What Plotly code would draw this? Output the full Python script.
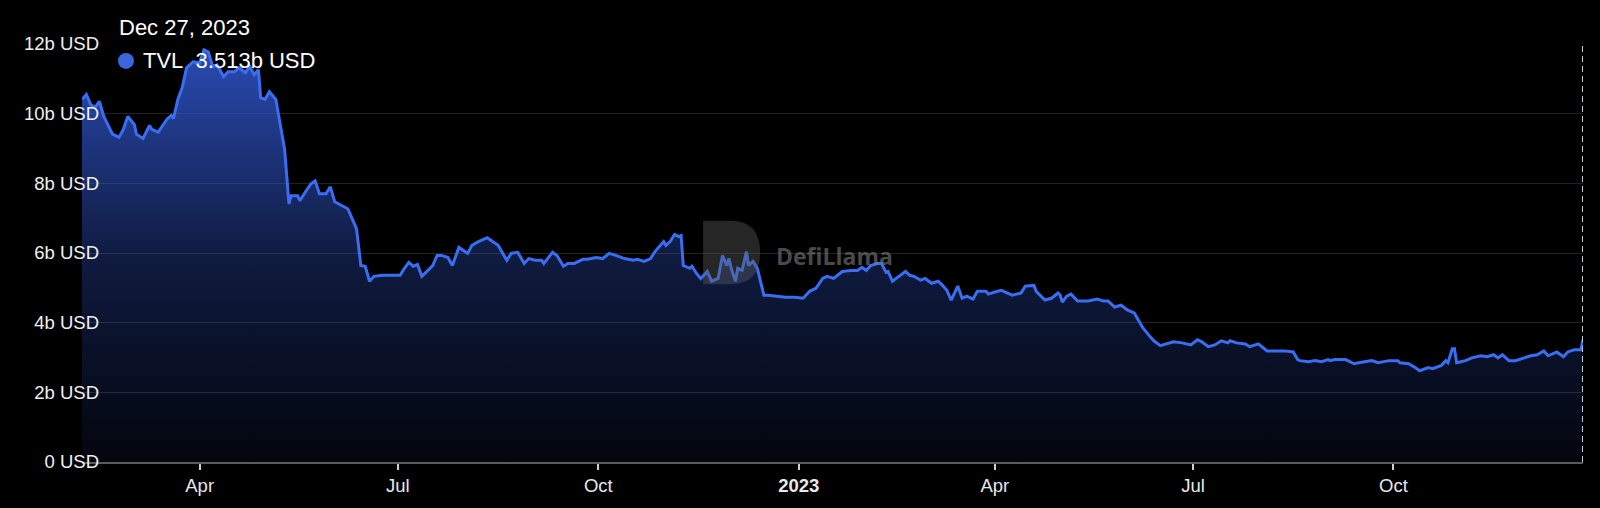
import plotly.graph_objects as go

# ---- data (TVL in billions USD) ----
dates = [
    "2022-02-06","2022-02-08","2022-02-10","2022-02-12","2022-02-14","2022-02-16","2022-02-20","2022-02-23",
    "2022-02-25","2022-02-27","2022-03-02","2022-03-03","2022-03-06","2022-03-09","2022-03-10","2022-03-13",
    "2022-03-17","2022-03-19","2022-03-20","2022-03-22","2022-03-24","2022-03-26","2022-03-29","2022-04-01",
    "2022-04-03","2022-04-05","2022-04-07","2022-04-09","2022-04-12","2022-04-14","2022-04-17","2022-04-19",
    "2022-04-22","2022-04-24","2022-04-26","2022-04-28","2022-04-29","2022-05-01","2022-05-03","2022-05-06",
    "2022-05-07","2022-05-10","2022-05-12","2022-05-13","2022-05-16","2022-05-17","2022-05-19","2022-05-22",
    "2022-05-24","2022-05-26","2022-05-29","2022-05-31","2022-06-02","2022-06-05","2022-06-08","2022-06-10",
    "2022-06-12","2022-06-14","2022-06-16","2022-06-18","2022-06-20","2022-06-24","2022-06-28","2022-07-02",
    "2022-07-04","2022-07-06","2022-07-08","2022-07-10","2022-07-12","2022-07-15","2022-07-17","2022-07-19",
    "2022-07-21","2022-07-24","2022-07-26","2022-07-29","2022-08-02","2022-08-04","2022-08-07","2022-08-11",
    "2022-08-13","2022-08-16","2022-08-20","2022-08-22","2022-08-25","2022-08-28","2022-08-30","2022-09-02",
    "2022-09-05","2022-09-06","2022-09-10","2022-09-12","2022-09-15","2022-09-17","2022-09-20","2022-09-24",
    "2022-09-26","2022-09-30","2022-10-03","2022-10-06","2022-10-09","2022-10-13","2022-10-17","2022-10-19",
    "2022-10-22","2022-10-25","2022-10-27","2022-10-31","2022-11-01","2022-11-03","2022-11-05","2022-11-07",
    "2022-11-08","2022-11-09","2022-11-12","2022-11-13","2022-11-15","2022-11-17","2022-11-18","2022-11-20",
    "2022-11-22","2022-11-25","2022-11-27","2022-11-29","2022-11-30","2022-12-01","2022-12-03","2022-12-04",
    "2022-12-06","2022-12-08","2022-12-09","2022-12-11","2022-12-13","2022-12-16","2022-12-18","2022-12-21",
    "2022-12-26","2022-12-30","2023-01-03","2023-01-06","2023-01-09","2023-01-12","2023-01-14","2023-01-17",
    "2023-01-19","2023-01-21","2023-01-25","2023-01-28","2023-01-30","2023-02-01","2023-02-03","2023-02-06",
    "2023-02-08","2023-02-10","2023-02-11","2023-02-13","2023-02-16","2023-02-19","2023-02-21","2023-02-23",
    "2023-02-26","2023-02-28","2023-03-03","2023-03-06","2023-03-08","2023-03-10","2023-03-12","2023-03-15",
    "2023-03-17","2023-03-19","2023-03-22","2023-03-24","2023-03-28","2023-03-29","2023-04-01","2023-04-04",
    "2023-04-09","2023-04-13","2023-04-15","2023-04-17","2023-04-19","2023-04-20","2023-04-24","2023-04-27",
    "2023-04-30","2023-05-01","2023-05-02","2023-05-04","2023-05-06","2023-05-09","2023-05-12","2023-05-14",
    "2023-05-18","2023-05-21","2023-05-23","2023-05-26","2023-05-29","2023-06-01","2023-06-04","2023-06-06",
    "2023-06-08","2023-06-11","2023-06-13","2023-06-16","2023-06-19","2023-06-22","2023-06-26","2023-06-30",
    "2023-07-03","2023-07-05","2023-07-08","2023-07-11","2023-07-14","2023-07-17","2023-07-18","2023-07-21",
    "2023-07-25","2023-07-27","2023-07-31","2023-08-02","2023-08-04","2023-08-09","2023-08-12","2023-08-16",
    "2023-08-18","2023-08-19","2023-08-23","2023-08-26","2023-08-29","2023-09-01","2023-09-02","2023-09-04",
    "2023-09-09","2023-09-13","2023-09-15","2023-09-21","2023-09-24","2023-09-29","2023-10-03","2023-10-04",
    "2023-10-08","2023-10-11","2023-10-13","2023-10-17","2023-10-19","2023-10-23","2023-10-25","2023-10-26",
    "2023-10-28","2023-10-29","2023-10-30","2023-11-01","2023-11-03","2023-11-06","2023-11-10","2023-11-13",
    "2023-11-16","2023-11-18","2023-11-20","2023-11-23","2023-11-26","2023-11-30","2023-12-03","2023-12-06",
    "2023-12-09","2023-12-11","2023-12-15","2023-12-18","2023-12-20","2023-12-23","2023-12-26","2023-12-27",
]

tvl_b = [
    10.41, 10.55, 10.26, 10.18, 10.35, 9.92, 9.41, 9.32,
    9.55, 9.92, 9.69, 9.41, 9.29, 9.66, 9.55, 9.47,
    9.84, 9.95, 9.86, 10.41, 10.75, 11.32, 11.49, 11.46,
    11.83, 11.77, 11.35, 11.40, 11.06, 11.20, 11.20, 11.32,
    11.18, 11.35, 11.12, 11.26, 10.46, 10.41, 10.63, 10.41,
    10.04, 8.98, 7.41, 7.64, 7.64, 7.50, 7.70, 7.98,
    8.07, 7.70, 7.70, 7.90, 7.47, 7.36, 7.27, 6.99,
    6.70, 5.64, 5.62, 5.19, 5.33, 5.36, 5.36, 5.36,
    5.56, 5.73, 5.62, 5.67, 5.33, 5.50, 5.64, 5.93,
    5.93, 5.87, 5.64, 6.16, 5.99, 6.22, 6.33, 6.44,
    6.36, 6.22, 5.79, 5.99, 6.02, 5.70, 5.84, 5.79,
    5.79, 5.70, 6.02, 5.93, 5.62, 5.70, 5.70, 5.82,
    5.82, 5.87, 5.84, 5.99, 5.93, 5.84, 5.79, 5.82,
    5.76, 5.84, 6.04, 6.33, 6.22, 6.33, 6.53, 6.47,
    6.50, 5.64, 5.56, 5.62, 5.42, 5.27, 5.33, 5.47,
    5.19, 5.27, 5.93, 5.64, 5.84, 5.56, 5.19, 5.56,
    5.50, 6.04, 5.64, 5.76, 5.56, 4.79, 4.79, 4.76,
    4.73, 4.73, 4.70, 4.90, 4.99, 5.27, 5.33, 5.27,
    5.36, 5.47, 5.50, 5.50, 5.59, 5.50, 5.64, 5.70,
    5.70, 5.45, 5.47, 5.19, 5.33, 5.47, 5.36, 5.33,
    5.22, 5.27, 5.13, 5.19, 5.07, 4.93, 4.65, 5.05,
    4.70, 4.76, 4.68, 4.90, 4.90, 4.82, 4.88, 4.93,
    4.79, 4.85, 5.05, 5.07, 5.07, 4.90, 4.65, 4.70,
    4.85, 4.79, 4.59, 4.76, 4.82, 4.62, 4.62, 4.62,
    4.68, 4.62, 4.62, 4.45, 4.50, 4.36, 4.28, 4.05,
    3.85, 3.62, 3.48, 3.34, 3.39, 3.45, 3.42, 3.36,
    3.51, 3.45, 3.31, 3.36, 3.48, 3.42, 3.48, 3.42,
    3.39, 3.31, 3.39, 3.28, 3.19, 3.19, 3.19, 3.16,
    2.94, 2.91, 2.88, 2.91, 2.88, 2.94, 2.91, 2.94,
    2.94, 2.82, 2.85, 2.91, 2.85, 2.91, 2.91, 2.85,
    2.82, 2.71, 2.62, 2.71, 2.68, 2.77, 2.91, 2.85,
    3.25, 3.25, 2.85, 2.88, 2.91, 2.99, 3.05, 3.02,
    3.08, 2.99, 3.08, 2.91, 2.91, 2.99, 3.05, 3.08,
    3.19, 3.05, 3.16, 3.02, 3.16, 3.22, 3.22, 3.513,
]

y_tick_vals = [0, 2, 4, 6, 8, 10, 12]
y_tick_text = ["0 USD", "2b USD", "4b USD", "6b USD", "8b USD", "10b USD", "12b USD"]
x_tick_vals = ["2022-04-01", "2022-07-01", "2022-10-01", "2023-01-01", "2023-04-01", "2023-07-01", "2023-10-01"]
x_tick_text = ["Apr", "Jul", "Oct", "<b>2023</b>", "Apr", "Jul", "Oct"]

tooltip_date = "Dec 27, 2023"
tooltip_series = "TVL"
tooltip_value = "3.513b USD"

LINE = "#3a6ef2"
FONT = "Liberation Sans, Arial, Helvetica, sans-serif"

fig = go.Figure()
fig.add_trace(go.Scatter(
    x=dates, y=tvl_b, mode="lines",
    line=dict(color=LINE, width=3),
    fill="tozeroy",
    fillgradient=dict(
        type="vertical", start=0, stop=12,
        colorscale=[[0, "rgba(50,90,215,0.06)"], [0.5, "rgba(50,90,215,0.30)"], [1, "rgba(50,90,215,0.85)"]],
    ),
    hoverinfo="skip", showlegend=False,
))

# crosshair at last point
fig.add_shape(type="line", xref="x", yref="paper", x0=dates[-1], x1=dates[-1], y0=0, y1=1,
              line=dict(color="#c4c8d0", width=2, dash="6px,4px"), layer="above")

# watermark logo (approximate D shape)
fig.add_shape(type="path", xref="paper", yref="paper",
              path="M 0.4138,0.4252 L 0.4138,0.5772 L 0.432,0.5772 Q 0.4518,0.5772 0.4518,0.5012 Q 0.4518,0.4252 0.432,0.4252 Z",
              fillcolor="rgba(95,95,95,0.40)", line=dict(width=0), layer="above")
fig.add_annotation(xref="paper", yref="paper", x=0.461, y=0.494, xanchor="left", yanchor="middle",
                   text="<b>DefiLlama</b>", showarrow=False,
                   font=dict(family="Open Sans, " + FONT, size=23, color="rgba(125,125,125,0.6)"))

# tooltip
fig.add_annotation(xref="paper", yref="paper", x=0.0235, y=1.040, xanchor="left", yanchor="middle",
                   text=tooltip_date, showarrow=False, font=dict(family=FONT, size=22, color="#ffffff"))
fig.add_shape(type="circle", xref="paper", yref="paper", xsizemode="pixel", ysizemode="pixel",
              xanchor=0.0293, yanchor=0.9596, x0=-8, x1=8, y0=-8, y1=8,
              fillcolor="#3c66de", line=dict(width=0), layer="above")
fig.add_annotation(xref="paper", yref="paper", x=0.0395, y=0.9596, xanchor="left", yanchor="middle",
                   text=tooltip_series + "&nbsp;&nbsp;" + tooltip_value, showarrow=False,
                   font=dict(family=FONT, size=22, color="#ffffff"))

fig.update_layout(
    width=1600, height=508,
    margin=dict(l=82, r=17, t=44, b=43),
    paper_bgcolor="#000000", plot_bgcolor="#000000",
    font=dict(family=FONT, color="#e8e8e8"),
    hovermode=False,
    xaxis=dict(
        type="date", range=[dates[0], dates[-1]],
        tickvals=x_tick_vals, ticktext=x_tick_text,
        showgrid=False, zeroline=False,
        showline=True, linecolor="#5a5a5a", linewidth=1.5,
        ticks="outside", ticklen=6, tickwidth=1.5, tickcolor="#cfcfcf",
        tickfont=dict(size=18.5, color="#e8e8e8"),
    ),
    yaxis=dict(
        range=[0, 12], tickvals=y_tick_vals, ticktext=y_tick_text,
        showgrid=True, gridcolor="#222222", gridwidth=1,
        zeroline=False, showline=False, ticks="",
        tickfont=dict(size=18.5, color="#f0f0f0"),
        ticklabelstandoff=-18,
    ),
)

fig.write_html("out.html", config={"displayModeBar": False},
               post_script="document.body.style.margin='0';document.body.style.background='#000';document.body.style.overflow='hidden';")
